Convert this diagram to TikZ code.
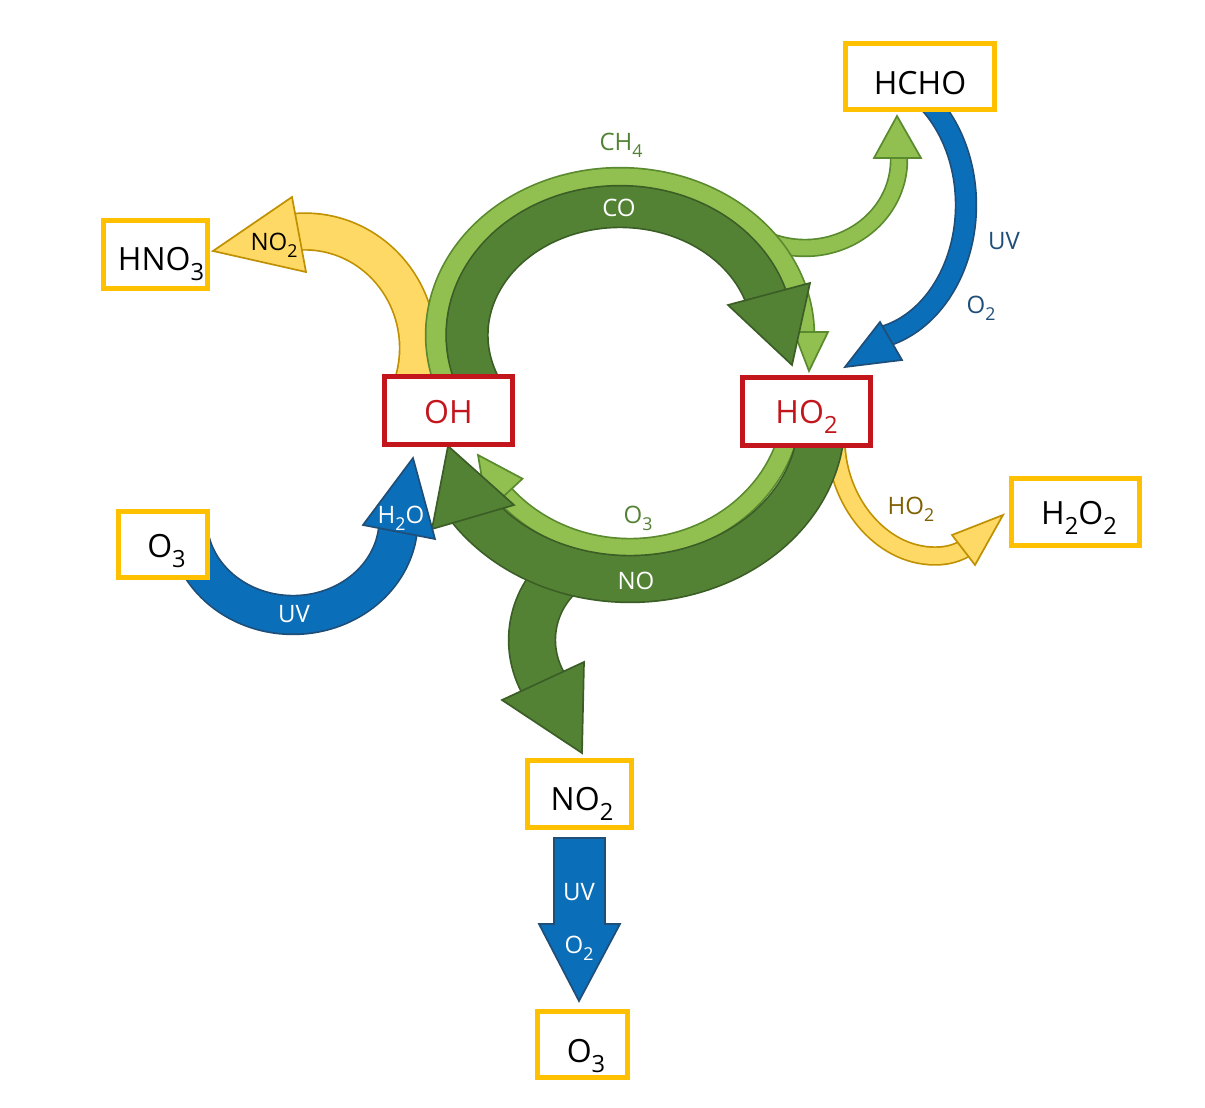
\documentclass[tikz,border=0pt]{standalone}
\usepackage{fontspec}
\setmainfont{Open Sans}
\usepackage{graphicx}
\makeatletter
\newcommand\sbs[1]{\raisebox{-0.3em}{\fontsize{\fpeval{0.74*\f@size}}{0}\selectfont #1}}
\makeatother
\definecolor{dgF}{HTML}{548235}
\definecolor{dgB}{HTML}{3B5E26}
\definecolor{lgF}{HTML}{92C050}
\definecolor{lgB}{HTML}{5A8A2E}
\definecolor{ylF}{HTML}{FFD966}
\definecolor{ylB}{HTML}{BF9000}
\definecolor{blF}{HTML}{0A6EB8}
\definecolor{blB}{HTML}{1F4E79}
\definecolor{boxY}{HTML}{FFC000}
\definecolor{boxR}{HTML}{C3161C}
\definecolor{txB}{HTML}{1F4E79}
\definecolor{txBr}{HTML}{7F6000}
\tikzset{
  band/.style={line width=1.7pt, line join=round},
  bdg/.style={band, draw=dgB, double=dgF},
  blg/.style={band, draw=lgB, double=lgF},
  byl/.style={band, draw=ylB, double=ylF},
  bbl/.style={band, draw=blB, double=blF},
  hd/.style={line width=1.7pt, line join=miter},
  hdg/.style={hd, draw=dgB, fill=dgF},
  hlg/.style={hd, draw=lgB, fill=lgF},
  hyl/.style={hd, draw=ylB, fill=ylF},
  hbl/.style={hd, draw=blB, fill=blF},
  ybox/.style={draw=boxY, line width=5pt, fill=white, font=\fontsize{32}{38}\selectfont, text depth=0pt, inner sep=0pt},
  rbox/.style={ybox, draw=boxR, text=boxR},
  lbl/.style={font=\fontsize{24}{29}\selectfont, anchor=base, inner sep=0pt},
}
\begin{document}
\begin{tikzpicture}[x=1pt,y=-1pt]
\useasboundingbox (0,0) rectangle (1205,1108);
\fill[white] (0,0) rectangle (1205,1108);

% yellow OH -> HNO3
\draw[byl, double distance=35pt] plot[smooth, domain=20:-96, samples=50, variable=\t] ({305+113*cos(\t)},{348+116.5*sin(\t)});
\draw[hyl] (292,197) -- (213,251) -- (306,272) -- cycle;

% light green branch to HCHO
\draw[blg, double distance=15pt] plot[smooth, domain=112:-2, samples=40, variable=\t] ({805+94*cos(\t)},{160+88*sin(\t)});
\draw[hlg] (874,158) -- (897,116) -- (921,158) -- cycle;

% light green CH4 arc
\draw[blg, double distance=19pt] plot[smooth, domain=160:361, samples=60, variable=\t] ({620+184*cos(\t)},{335+157*sin(\t)});
\draw[hlg] (794,332) -- (809,371) -- (828,332) -- cycle;

% dark green CO arc
\draw[bdg, double distance=40pt] plot[smooth, domain=155:344, samples=60, variable=\t] ({620+153*cos(\t)},{335+128.5*sin(\t)});
\draw[hdg] (728,305) -- (810,283) -- (792,365) -- cycle;

% light green O3 arc
\draw[blg, double distance=17pt] plot[smooth, domain=15:141, samples=50, variable=\t] ({630+163*cos(\t)},{400+148*sin(\t)});
\draw[hlg] (522.5,478.7) -- (478,455) -- (487.5,511.3) -- cycle;

% yellow HO2 -> H2O2
\draw[byl, double distance=16pt] (836,440) .. controls (836,500) and (880,556) .. (935,556) .. controls (948,556) and (957,553) .. (966,548);
\draw[hyl] (952,535) -- (1003,515) -- (975,565) -- cycle;

% dark green branch to NO2
\draw[bdg, double distance=45pt] plot[smooth, domain=228:150, samples=30, variable=\t] ({620+88*cos(\t)},{640+88*sin(\t)});
\draw[hdg] (502,700) -- (582,753) -- (584,662) -- cycle;

% dark green NO arc
\draw[bdg, double distance=45pt] plot[smooth, domain=8:147, samples=50, variable=\t] ({630+191.5*cos(\t)},{420+159*sin(\t)});
\draw[hdg] (514,505) -- (448,446) -- (432,529) -- cycle;

% blue O3 -> OH
\draw[bbl, double distance=37pt] plot[smooth, domain=170:6, samples=50, variable=\t] ({293+105.5*cos(\t)},{520+95*sin(\t)});
\draw[hbl] (363,525) -- (413,458) -- (435,539) -- cycle;

% blue HCHO -> HO2
\draw[bbl, double distance=19pt] plot[smooth, domain=-55:76, samples=50, variable=\t] ({860+106*cos(\t)},{205+135*sin(\t)});
\draw[hbl] (880,322) -- (845,367) -- (902,360) -- cycle;

% blue NO2 -> O3
\draw[hbl] (554,838) -- (605,838) -- (605,924) -- (620,924) -- (579,1001) -- (539,924) -- (554,924) -- cycle;

% boxes
\node[ybox, minimum width=149pt, minimum height=66pt, text height=35.8pt] (hcho) at (920,76.5) {HCHO};
\node[ybox, minimum width=104pt, minimum height=68pt, text height=31.8pt] (hno3) at (155.5,254.5) {\hspace*{11pt}HNO\sbs{3}};
\node[rbox, minimum width=128pt, minimum height=68pt, text height=25.8pt] (oh) at (448.5,410.5) {OH};
\node[rbox, minimum width=128pt, minimum height=68pt, text height=23.8pt] (ho2) at (806.5,411.5) {HO\sbs{2}};
\node[ybox, minimum width=89pt, minimum height=66pt, text height=26.8pt] (o3a) at (163,544.5) {\hspace*{7pt}O\sbs{3}};
\node[ybox, minimum width=128pt, minimum height=67pt, text height=24.8pt] (h2o2) at (1075.5,512) {\hspace*{7pt}H\sbs{2}O\sbs{2}};
\node[ybox, minimum width=104pt, minimum height=67pt, text height=32.8pt] (no2) at (579.5,794) {\hspace*{5pt}NO\sbs{2}};
\node[ybox, minimum width=90pt, minimum height=66pt, text height=35.8pt] (o3b) at (582.5,1044.5) {\hspace*{7pt}O\sbs{3}};

% labels
\node[lbl, text=dgF] (lch4) at (621,150) {CH\sbs{4}};
\node[lbl, text=white] (lco) at (619,216) {CO};
\node[lbl, text=dgF] (lo3) at (638,523) {O\sbs{3}};
\node[lbl, text=white] (lno) at (636,589) {NO};
\node[lbl, text=txB] (luva) at (1004,249) {UV};
\node[lbl, text=txB] (lo2a) at (981,313) {O\sbs{2}};
\node[lbl, text=txBr] (lho2) at (911,514) {HO\sbs{2}};
\node[lbl] (lno2) at (274,250) {NO\sbs{2}};
\node[lbl, text=white] (luvb) at (294,622) {UV};
\node[lbl, text=white] (lh2o) at (401,523) {H\sbs{2}O};
\node[lbl, text=white] (luvc) at (579,900) {UV};
\node[lbl, text=white] (lo2b) at (579,953) {O\sbs{2}};
\end{tikzpicture}
\end{document}
